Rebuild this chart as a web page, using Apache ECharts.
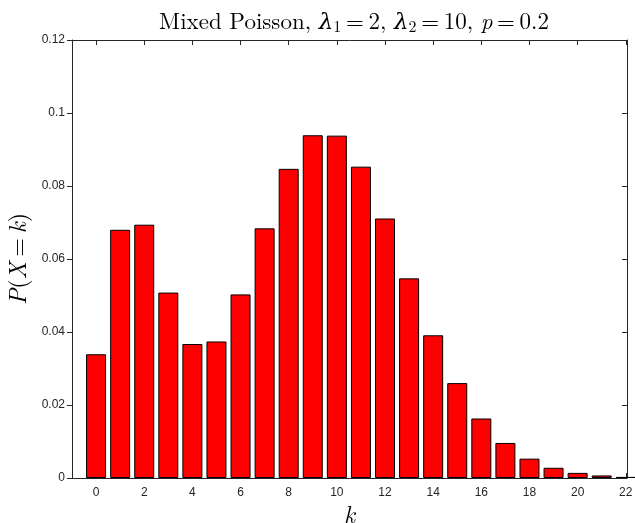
<!DOCTYPE html>
<html><head><meta charset="utf-8">
<script src="https://cdn.jsdelivr.net/npm/echarts@6/dist/echarts.min.js"></script>
<style>html,body{margin:0;padding:0;background:#fff}#c{width:635px;height:523px}</style>
</head><body><div id="c"></div>
<script>
const ks = [0,1,2,3,4,5,6,7,8,9,10,11,12,13,14,15,16,17,18,19,20,21,22];
const probs = [0.0339,0.0680,0.0694,0.0508,0.0367,0.0374,0.0503,0.0684,0.0847,0.0939,0.0938,0.0853,0.0711,0.0547,0.0391,0.0260,0.0163,0.0096,0.0053,0.0028,0.0014,0.0007,0.0003];
const xTicks = [0,2,4,6,8,10,12,14,16,18,20,22];
const yTicks = [0,0.02,0.04,0.06,0.08,0.1,0.12];

const chart = echarts.init(document.getElementById('c'));
const axCol = '#262626';
const serif = '"Latin Modern Roman","DejaVu Serif","Liberation Serif",serif';
const sans = '"Liberation Sans", Arial, Helvetica, sans-serif';
chart.setOption({
  animation:false,
  title:{
    text:'Mixed Poisson, {i|λ}{s|1}\u2009=\u20092, {i|λ}{s|2}\u2009=\u200910, {i|p}\u2009=\u20090.2',
    left:349, top:4, textAlign:'center',
    textStyle:{fontFamily:serif,fontSize:23,fontWeight:'normal',color:'#000',
      rich:{
        i:{fontFamily:serif,fontSize:23,fontStyle:'italic',color:'#000'},
        s:{fontFamily:serif,fontSize:16,color:'#000',padding:[10,0,0,0]}
      }}
  },
  grid:{left:72,right:8,top:40,bottom:45,containLabel:false,outerBoundsMode:'none'},
  xAxis:[{
    type:'value',min:-1,max:22.05,position:'bottom',
    axisLine:{show:true,onZero:false,lineStyle:{color:axCol,width:1}},
    axisTick:{show:true,inside:true,length:5,customValues:xTicks,lineStyle:{color:axCol}},
    axisLabel:{show:true,customValues:xTicks,color:axCol,fontSize:12,fontFamily:sans,margin:9},
    splitLine:{show:false},
    name:'k',nameLocation:'middle',nameGap:25,
    nameTextStyle:{fontFamily:serif,fontStyle:'italic',fontSize:24,color:'#000'}
  },{
    type:'value',min:-1,max:22.05,position:'top',
    axisLine:{show:true,onZero:false,lineStyle:{color:axCol,width:1}},
    axisTick:{show:true,inside:true,length:5,customValues:xTicks,lineStyle:{color:axCol}},
    axisLabel:{show:false},splitLine:{show:false}
  }],
  yAxis:[{
    type:'value',min:0,max:0.12,interval:0.02,position:'left',
    axisLine:{show:true,onZero:false,lineStyle:{color:axCol,width:1}},
    axisTick:{show:true,inside:false,length:5,lineStyle:{color:axCol}},
    axisLabel:{color:axCol,fontSize:12,fontFamily:sans,margin:7,
      formatter:function(v){return String(parseFloat(v.toFixed(2)));}},
    splitLine:{show:false},
    name:'{i|P}({i|X}\u2009=\u2009{i|k})',nameLocation:'middle',nameGap:38,nameRotate:90,
    nameTextStyle:{fontFamily:serif,fontSize:24,color:'#000',
      rich:{i:{fontFamily:serif,fontStyle:'italic',fontSize:24,color:'#000'}}}
  },{
    type:'value',min:0,max:0.12,interval:0.02,position:'right',
    axisLine:{show:true,onZero:false,lineStyle:{color:axCol,width:1}},
    axisTick:{show:true,inside:true,length:5,lineStyle:{color:axCol}},
    axisLabel:{show:false},splitLine:{show:false}
  }],
  series:[{
    type:'bar',xAxisIndex:0,yAxisIndex:0,barWidth:20,
    data:ks.map((k,i)=>[k,probs[i]]),
    itemStyle:{color:'#ff0000',borderColor:'#000',borderWidth:1}
  }]
});
</script></body></html>
